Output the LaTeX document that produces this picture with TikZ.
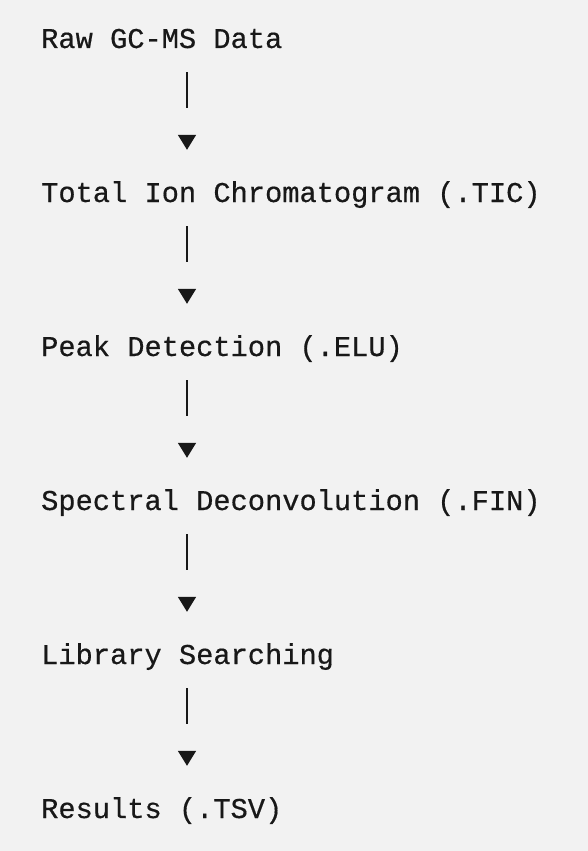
\documentclass[tikz,border=0pt]{standalone}
\usepackage{fontspec}
\newfontfamily\stagefont[BoldFont={Liberation Mono}, BoldFeatures={FakeBold=0.5}]{Liberation Mono}
\usetikzlibrary{arrows.meta}
\definecolor{bgGray}{RGB}{242,242,242}
\definecolor{inkBlack}{RGB}{24,24,24}
\tikzset{
  stage/.style={inner sep=0pt, anchor=base west, text height=20pt, text depth=0pt,
    text=inkBlack, font=\stagefont\bfseries\fontsize{28.7}{34}\selectfont},
  flow/.style={draw=inkBlack, line width=1.6pt, dash pattern=on 36pt off 200pt,
    shorten <=24pt, shorten >=32pt,
    -{Triangle[width=18pt,length=15pt]}}
}
\begin{document}
\begin{tikzpicture}[x=1pt, y=-1pt]
    \useasboundingbox (0,0) rectangle (588,851);
    % background
    \fill[bgGray] (0,0) rectangle (588,851);
    \coordinate (col) at (187,0);

    % stages
    \node[stage] (raw) at (41, 48) {Raw GC-MS Data};
    \node[stage] (tic) at (41, 202) {Total Ion Chromatogram (.TIC)};
    \node[stage] (elu) at (41, 356) {Peak Detection (.ELU)};
    \node[stage] (fin) at (41, 510) {Spectral Deconvolution (.FIN)};
    \node[stage] (lib) at (41, 664) {Library Searching};
    \node[stage] (tsv) at (41, 818) {Results (.TSV)};

    % stage - stage
    \draw[flow] (raw.south -| col) -- (tic.north -| col);
    \draw[flow] (tic.south -| col) -- (elu.north -| col);
    \draw[flow] (elu.south -| col) -- (fin.north -| col);
    \draw[flow] (fin.south -| col) -- (lib.north -| col);
    \draw[flow] (lib.south -| col) -- (tsv.north -| col);
\end{tikzpicture}
\end{document}
